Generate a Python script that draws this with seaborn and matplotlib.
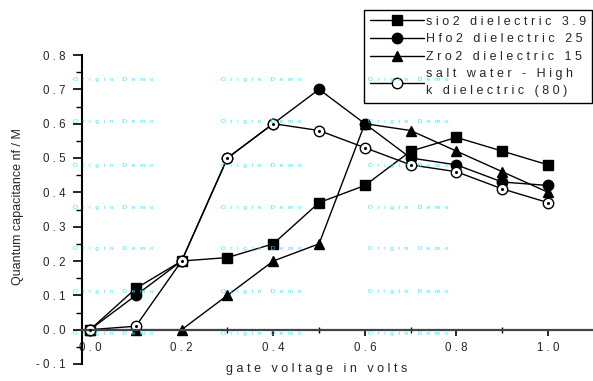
# plot.py
# Quantum capacitance against gate voltage for four dielectrics, drawn in the Origin look.

import matplotlib
matplotlib.use('Agg')
import matplotlib.pyplot as plt
import matplotlib.ticker as mticker
import pandas as pd
import seaborn as sns

# data
gate_voltage = [0.0, 0.1, 0.2, 0.3, 0.4, 0.5, 0.6, 0.7, 0.8, 0.9, 1.0]
sio2 = [0.0, 0.12, 0.2, 0.21, 0.25, 0.37, 0.42, 0.52, 0.56, 0.52, 0.48]
hfo2 = [0.0, 0.10, 0.2, 0.50, 0.60, 0.70, 0.60, 0.50, 0.48, 0.43, 0.42]
zro2 = [0.0, 0.0, 0.0, 0.10, 0.20, 0.25, 0.60, 0.58, 0.52, 0.46, 0.40]
salt_water = [0.0, 0.01, 0.2, 0.50, 0.60, 0.58, 0.53, 0.48, 0.46, 0.41, 0.37]

series_names = ['sio2 dielectric 3.9', 'Hfo2 dielectric 25', 'Zro2 dielectric 15',
                'salt water - High\nk dielectric (80)']
x_ticks = [0.0, 0.2, 0.4, 0.6, 0.8, 1.0]
y_ticks = [-0.1, 0.0, 0.1, 0.2, 0.3, 0.4, 0.5, 0.6, 0.7, 0.8]

GAP = '\u2009\u200a'


def spaced(s, gap=GAP):
    # Origin spreads its letters out, so put a small gap between every character
    return '\n'.join(gap.join(line) for line in s.split('\n'))


sns.set_style('white')
plt.rcParams['font.family'] = ['Liberation Sans', 'DejaVu Sans']

fig = plt.figure(figsize=(5.93, 3.81), dpi=100)
ax = fig.add_axes([82 / 593, 17 / 381, 511 / 593, 309 / 381])

styles = [
    dict(marker='s', markerfacecolor='black'),
    dict(marker='o', markerfacecolor='black'),
    dict(marker='^', markerfacecolor='black'),
    dict(marker='o', markerfacecolor='white'),
]
for values, name, style in zip([sio2, hfo2, zro2, salt_water], series_names, styles):
    df = pd.DataFrame({'x': gate_voltage, 'y': values})
    sns.lineplot(data=df, x='x', y='y', ax=ax, color='black', linewidth=1.0,
                 markersize=7.5, markeredgecolor='black', markeredgewidth=1.0,
                 label=spaced(name), **style)

# little dot in the middle of the open circles, as Origin draws them
ax.plot(gate_voltage, salt_water, linestyle='none', marker='o', markersize=1.2,
        color='black', zorder=5)

ax.set_xlim(-0.0175, 1.098)
ax.set_ylim(-0.1, 0.8)

ax.spines['top'].set_visible(False)
ax.spines['right'].set_visible(False)
ax.spines['bottom'].set_position(('data', 0))
ax.spines['bottom'].set_color('#444444')
ax.spines['bottom'].set_linewidth(1.6)
ax.spines['left'].set_color('black')
ax.spines['left'].set_linewidth(1.5)

ax.set_xticks(x_ticks)
ax.set_xticks([0.1, 0.3, 0.5, 0.7, 0.9], minor=True)
ax.set_xticklabels([spaced('%.1f' % v) for v in x_ticks], fontsize=8.3)
ax.set_yticks(y_ticks)
ax.yaxis.set_minor_locator(mticker.MultipleLocator(0.05))
ax.set_yticklabels([spaced('%.1f' % v) for v in y_ticks], fontsize=8.3)

ax.tick_params(axis='x', which='major', direction='out', length=4.5, width=1.2,
               color='black', pad=4.5, bottom=True)
ax.tick_params(axis='x', which='minor', direction='inout', length=5, width=1.0,
               color='black', bottom=True)
ax.tick_params(axis='y', which='major', direction='out', length=6.5, width=1.2,
               color='black', pad=5.5, left=True)
ax.tick_params(axis='y', which='minor', direction='out', length=4, width=1.0,
               color='black', left=True)

ax.set_xlabel(spaced('gate voltage in volts'), fontsize=9, va='top')
ax.xaxis.set_label_coords(0.46, 0.003)
ax.set_ylabel('Quantum capacitance nf / M', fontsize=9)
ax.yaxis.set_label_coords(-0.1135, 0.511)

leg = ax.legend(loc='upper right', bbox_to_anchor=(592 / 593, 1 - 10 / 381),
                bbox_transform=fig.transFigure, fontsize=9, frameon=True,
                fancybox=False, framealpha=1, edgecolor='black', handlelength=4.3,
                handletextpad=0.2, labelspacing=0.45, borderpad=0.45, numpoints=1,
                borderaxespad=0)
leg.get_frame().set_linewidth(1.0)
for t in leg.get_texts():
    t.set_linespacing(1.5)

# the demo watermark that Origin prints over the plot
mark = '  \u2009'.join('Origin') + '  \u2009' * 2 + '  \u2009'.join('Demo')
for col_x in [73, 221, 368]:
    for row_y in [80, 122, 165, 207, 249, 291, 333]:
        fig.text(col_x / 593, 1 - row_y / 381, mark, fontsize=4.5, color='#22eeff',
                 va='center', ha='left', zorder=10)

plt.savefig('out.png', dpi=100)
